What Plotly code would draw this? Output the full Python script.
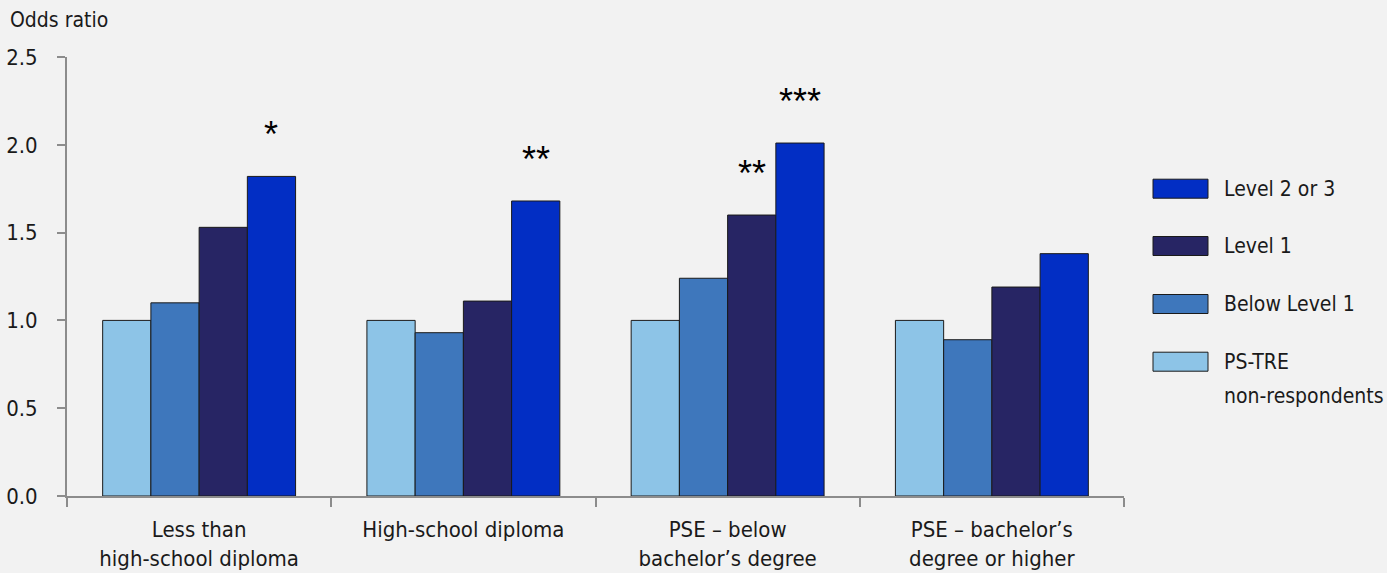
import plotly.graph_objects as go

# Education groups (x categories)
categories = [
    "Less than<br>high-school diploma",
    "High-school diploma",
    "PSE – below<br>bachelor’s degree",
    "PSE – bachelor’s<br>degree or higher",
]

# Odds ratios by PS-TRE proficiency level
series_names = ["PS-TRE<br>non-respondents", "Below Level 1", "Level 1", "Level 2 or 3"]
ps_tre_nonresp = [1.00, 1.00, 1.00, 1.00]
below_level1 = [1.10, 0.93, 1.24, 0.89]
level1 = [1.53, 1.11, 1.60, 1.19]
level2_3 = [1.82, 1.68, 2.01, 1.38]
series_values = [ps_tre_nonresp, below_level1, level1, level2_3]

# Significance markers per series / category
significance = [
    ["", "", "", ""],
    ["", "", "", ""],
    ["", "", "**", ""],
    ["*", "**", "***", ""],
]

colors = ["#8DC4E7", "#3E77BC", "#272564", "#022EC4"]
FONT = "DejaVu Sans Condensed, Roboto, sans-serif"
FS = 21
TEXT = "#1a1a1a"
BG = "#F2F2F2"

W, H = 1387, 573
ML, MR, MT, MB = 67, 263, 57, 77
PW, PH = W - ML - MR, H - MT - MB
BARGAP = 0.27
LEGEND_LINE = 34  # pixel spacing between wrapped legend lines


def px_x(px):
    return (px - ML) / PW


def px_y(py):
    return (H - MB - py) / PH


fig = go.Figure()
for name, vals, col in zip(series_names, series_values, colors):
    fig.add_trace(go.Bar(
        x=categories, y=vals, name=name.replace("<br>", " "),
        marker=dict(color=col, line=dict(color="#1a1a1a", width=1)),
        showlegend=False,
    ))

# Significance asterisks above bars
n = len(series_values)
bar_w = (1 - BARGAP) / n
for s, (vals, marks) in enumerate(zip(series_values, significance)):
    for c, (v, m) in enumerate(zip(vals, marks)):
        if m:
            fig.add_annotation(
                x=c + (s - (n - 1) / 2) * bar_w, y=v, xref="x", yref="y",
                text=m, showarrow=False, yanchor="bottom", yshift=19,
                font=dict(family="Liberation Sans, Arial, sans-serif", size=36, color="#000"),
            )

# Axis title placed above the y axis
fig.add_annotation(
    x=px_x(8), y=px_y(20), xref="paper", yref="paper", xanchor="left", yanchor="middle",
    text="Odds ratio", showarrow=False, font=dict(family=FONT, size=FS, color=TEXT),
)

# Legend drawn as swatches + labels, top item = highest level
legend_centers = [361.7, 304, 246, 188.7]
for name, col, cy in zip(series_names, colors, legend_centers):
    fig.add_shape(
        type="rect", xref="paper", yref="paper",
        x0=px_x(1153), x1=px_x(1208), y0=px_y(cy + 9.5), y1=px_y(cy - 9.5),
        fillcolor=col, line=dict(color="#1a1a1a", width=1),
    )
    for k, line in enumerate(name.split("<br>")):
        fig.add_annotation(
            x=px_x(1222), y=px_y(cy + k * LEGEND_LINE), xref="paper", yref="paper",
            xanchor="left", yanchor="middle", align="left",
            text=line, showarrow=False, font=dict(family=FONT, size=FS, color=TEXT),
        )

fig.update_layout(
    width=W, height=H,
    margin=dict(l=ML, r=MR, t=MT, b=MB),
    paper_bgcolor=BG, plot_bgcolor=BG,
    barmode="group", bargap=BARGAP, bargroupgap=0,
    font=dict(family=FONT, size=FS, color=TEXT),
    xaxis=dict(
        type="category", showline=True, linecolor="#8c8c8c", linewidth=2,
        ticks="outside", tickson="boundaries", ticklen=9, tickcolor="#8c8c8c", tickwidth=2,
        showgrid=False, zeroline=False, ticklabelstandoff=13, automargin=False,
        tickfont=dict(family=FONT, size=FS + 1, color=TEXT),
    ),
    yaxis=dict(
        range=[0, 2.5], dtick=0.5, tickformat=".1f",
        showline=True, linecolor="#8c8c8c", linewidth=2,
        ticks="outside", ticklen=8, tickcolor="#8c8c8c", tickwidth=2,
        showgrid=False, zeroline=False, ticklabelstandoff=15, automargin=False,
        tickfont=dict(family=FONT, size=FS + 1, color=TEXT),
    ),
)

fig.write_html("out.html")
